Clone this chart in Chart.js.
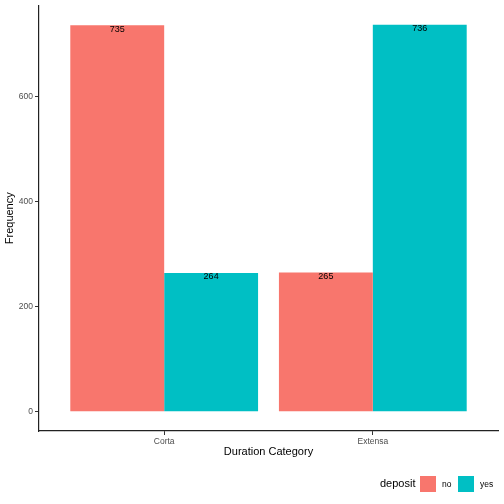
<!DOCTYPE html>
<html>
<head>
<meta charset="utf-8">
<script src="https://cdn.jsdelivr.net/npm/chart.js@4"></script>
<style>
html,body{margin:0;padding:0;background:#fff;}
#wrap{width:504px;height:504px;}
</style>
</head>
<body>
<div id="wrap"><canvas id="c" width="504" height="504"></canvas></div>
<script>
const categories = ["Corta", "Extensa"];
const seriesNames = ["no", "yes"];
const valuesNo = [735, 265];
const valuesYes = [264, 736];
const yTicks = [0, 200, 400, 600];
const colors = ["#F8766D", "#00BFC4"];

const FONT = "'Liberation Sans', Arial, sans-serif";

function toPoints(vals){ return vals.map((v,i)=>({x:i+1, y:v})); }

const valueLabels = {
  id:'valueLabels',
  afterDatasetsDraw(chart){
    const ctx = chart.ctx;
    ctx.save();
    ctx.font = "9px " + FONT;
    ctx.fillStyle = "#000";
    ctx.textAlign = "center";
    ctx.textBaseline = "middle";
    chart.data.datasets.forEach((ds, di)=>{
      const meta = chart.getDatasetMeta(di);
      meta.data.forEach((el, i)=>{
        ctx.fillText(String(ds.data[i].y), el.x, el.y + 4);
      });
    });
    ctx.restore();
  }
};

const customLegend = {
  id:'customLegend',
  afterDraw(chart){
    const ctx = chart.ctx;
    ctx.save();
    ctx.textBaseline = "middle";
    ctx.textAlign = "left";
    ctx.fillStyle = "#000";
    ctx.font = "11px " + FONT;
    ctx.fillText("deposit", 380, 484);
    const boxes = [420, 458];
    const labelsX = [442, 480];
    chart.data.datasets.forEach((ds, di)=>{
      ctx.fillStyle = ds.backgroundColor;
      ctx.fillRect(boxes[di], 476, 16, 16);
      ctx.fillStyle = "#000";
      ctx.font = "8.5px " + FONT;
      ctx.fillText(ds.label, labelsX[di], 485);
    });
    ctx.restore();
  }
};

new Chart(document.getElementById('c'), {
  type:'bar',
  data:{
    datasets:[
      {label:seriesNames[0], data:toPoints(valuesNo), backgroundColor:colors[0], borderWidth:0},
      {label:seriesNames[1], data:toPoints(valuesYes), backgroundColor:colors[1], borderWidth:0}
    ]
  },
  options:{
    responsive:false,
    animation:false,
    devicePixelRatio:1,
    layout:{padding:{left:0, top:5.5, right:6, bottom:0}},
    categoryPercentage:0.9,
    barPercentage:1,
    plugins:{legend:{display:false}, tooltip:{enabled:false}},
    scales:{
      x:{
        type:'linear',
        min:0.4, max:2.6,
        offset:false,
        grid:{display:true, offset:false, drawOnChartArea:false, drawTicks:true, tickLength:4, color:'#333', lineWidth:1},
        border:{display:true, color:'#222', width:1.2},
        afterBuildTicks(scale){ scale.ticks = categories.map((c,i)=>({value:i+1})); },
        ticks:{
          autoSkip:false, maxRotation:0, padding:2,
          color:'#4d4d4d', font:{family:FONT, size:8.5},
          callback(v){ return categories[Math.round(v)-1] ?? ''; }
        },
        title:{display:true, text:'Duration Category', color:'#000', font:{family:FONT, size:11}, padding:{top:0, bottom:45}},
        afterFit(scale){ scale.height = 73; scale.paddingLeft = 0; scale.paddingRight = 0; }
      },
      y:{
        type:'linear',
        min:-36.8, max:772.8,
        grid:{display:true, offset:false, drawOnChartArea:false, drawTicks:true, tickLength:4, color:'#333', lineWidth:1},
        border:{display:true, color:'#222', width:1.2},
        afterBuildTicks(scale){ scale.ticks = yTicks.map(v=>({value:v})); },
        ticks:{ padding:2, color:'#4d4d4d', font:{family:FONT, size:8.5} },
        title:{display:true, text:'Frequency', color:'#000', font:{family:FONT, size:11}, padding:{top:3, bottom:0}},
        afterFit(scale){ scale.width = 39; scale.paddingTop = 0; scale.paddingBottom = 0; }
      }
    }
  },
  plugins:[valueLabels, customLegend]
});
</script>
</body>
</html>
